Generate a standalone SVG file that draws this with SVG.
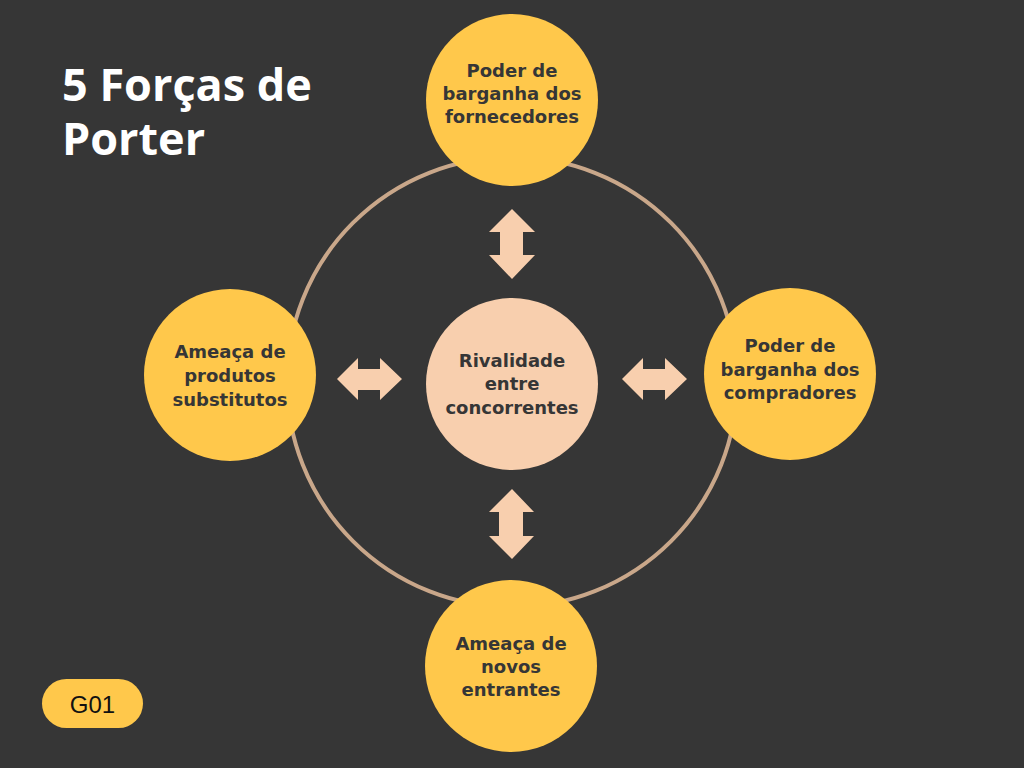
<svg xmlns="http://www.w3.org/2000/svg" width="1024" height="768" viewBox="0 0 1024 768">
<style>
.bg{fill:#363636}
.force{fill:#FFC84B}
.core{fill:#F8CFAE}
.arrow{fill:#F8CFAE}
.ring{fill:none;stroke:#C9A78A;stroke-width:4}
.lbl{font-family:"DejaVu Sans","Open Sans",sans-serif;font-weight:700;font-size:18px;fill:#363636;text-anchor:middle}
.title{font-family:"Open Sans","Liberation Sans",sans-serif;font-weight:700;font-size:45px;fill:#FFFFFF}
.badge{font-family:"Liberation Sans",Arial,sans-serif;font-size:24px;fill:#111111;text-anchor:middle}
</style>
<rect class="bg" x="0" y="0" width="1024" height="768"/>
<g id="title">
<text class="title"><tspan x="62" y="101">5 Forças de</tspan><tspan x="62" y="155">Porter</tspan></text>
</g>
<g id="connectors">
<circle class="ring" cx="512" cy="382" r="225"/>
<polygon class="arrow" points="512,209 535,232 523,232 523,255 535,255 512,279 489,255 500,255 500,232 489,232"/>
<polygon class="arrow" points="512,489 534,512 523,512 523,536 534,536 512,559 489,536 499,536 499,512 489,512"/>
<polygon class="arrow" points="337,379 358,358 358,369 380,369 380,358 402,379 380,400 380,390 358,390 358,400"/>
<polygon class="arrow" points="622,379 643,358 643,369 665,369 665,358 687,379 665,400 665,390 643,390 643,400"/>
</g>
<g id="node-center">
<circle class="core" cx="512" cy="384" r="86"/>
<text class="lbl" x="512" y="367">Rivalidade</text>
<text class="lbl" x="512" y="390">entre</text>
<text class="lbl" x="512" y="414">concorrentes</text>
</g>
<g id="node-top">
<circle class="force" cx="512" cy="100" r="86"/>
<text class="lbl" x="512" y="77">Poder de</text>
<text class="lbl" x="512" y="100">barganha dos</text>
<text class="lbl" x="512" y="123">fornecedores</text>
</g>
<g id="node-left">
<circle class="force" cx="230" cy="375" r="86"/>
<text class="lbl" x="230" y="358">Ameaça de</text>
<text class="lbl" x="230" y="382">produtos</text>
<text class="lbl" x="230" y="406">substitutos</text>
</g>
<g id="node-right">
<circle class="force" cx="790" cy="374" r="86"/>
<text class="lbl" x="790" y="352">Poder de</text>
<text class="lbl" x="790" y="376">barganha dos</text>
<text class="lbl" x="790" y="399">compradores</text>
</g>
<g id="node-bottom">
<circle class="force" cx="511" cy="666" r="86"/>
<text class="lbl" x="511" y="650">Ameaça de</text>
<text class="lbl" x="511" y="673">novos</text>
<text class="lbl" x="511" y="696">entrantes</text>
</g>
<g id="badge">
<rect x="42" y="679" width="101" height="49" rx="24.5" fill="#FFC84B"/>
<text class="badge" x="92.5" y="713">G01</text>
</g>
</svg>
